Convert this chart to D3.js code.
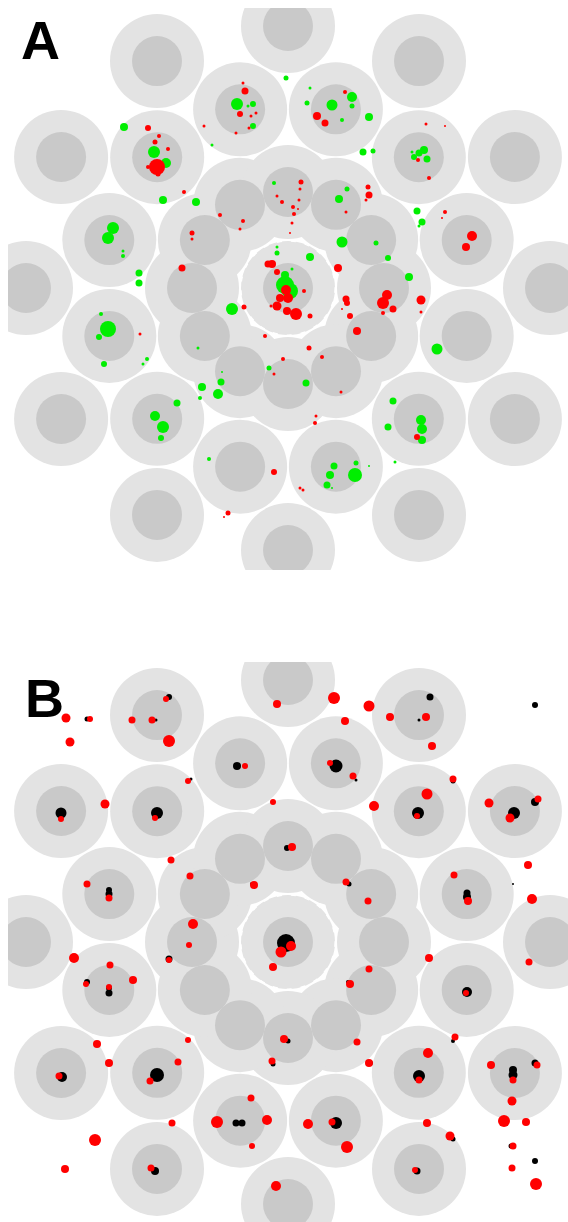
<!DOCTYPE html>
<html>
<head>
<meta charset="utf-8">
<script src="https://cdn.jsdelivr.net/npm/d3@7"></script>
<style>
  html, body { margin: 0; padding: 0; background: #fff; }
  svg { display: block; }
</style>
</head>
<body>
<div id="chart"></div>
<script>
// DETECTOR LAYOUT: RINGS OF TUBES AROUND THE CENTRE
const ringRadius = [0, 96, 185, 262];
const ringCount = [1, 12, 12, 12];
const ringPhase = [0, 0, 15, 0];
const tubeOuter = 47;
const tubeInner = 25;

// PANEL A HITS  [x, y, amplitude]
const greenA = [
  [-164,-161,4],[-134,-136,6],[-122,-125,5],[-125,-88,4],[-92,-86,4],[-76,-143,1.5],
  [-51,-184,6],[-40,-182,1.5],[-35,-184,3],[-35,-162,3],[-2,-210,2.5],
  [-175,-60,6],[-180,-50,6],[-165,-37,1.5],[-165,-32,2],[-149,-15,3.5],[-149,-5,3.5],
  [-14,-105,2],[-11,-41,1.5],[-11,-35,2.5],
  [22,-200,1.5],[64,-191,5],[19,-185,2.5],[44,-183,5.5],[64,-182,2.5],[81,-171,4],[54,-168,2],
  [75,-136,3.5],[85,-137,2.5],[136,-138,4],[131,-135,3.5],[126,-131,3],[139,-129,3.5],[124,-136,1.5],
  [129,-77,3.5],[134,-66,3.5],[131,-62,1.5],[59,-99,2.5],[51,-89,4],[54,-46,5.5],[88,-45,2.5],
  [22,-31,4],[100,-30,3],[121,-11,4],
  [4,-19,1.5],[-3,-13,4],[-3,-3,9],[2,3,8],[-56,21,6],[-90,60,1.5],[-19,80,2.5],
  [-67,94,3.5],[-66,84,1],[18,95,3.5],[-86,99,4],[-70,106,5],[-88,110,2],[-111,115,3.5],[105,113,3.5],
  [-187,26,2],[-180,41,8],[-189,49,3],[-184,76,3],[-141,71,2],[-145,76,1.5],
  [-133,128,5],[-125,139,6],[-127,150,3],[-79,171,2],
  [149,61,5.5],[100,139,3.5],[133,132,5],[134,141,5],[134,152,4],[107,174,1.5],
  [46,178,3.5],[68,175,2.5],[67,187,7],[42,187,4],[39,197,3.5],[44,200,1],[81,178,1]
];

const redA = [
  [-140,-160,3],[-129,-152,2],[-133,-146,2.5],[-120,-139,2],[-131,-121,8],[-130,-114,2.5],[-140,-121,2],
  [-104,-96,2],[-84,-162,1.5],[-43,-197,3.5],[-45,-205,1.5],[-48,-174,3],[-37,-172,1.5],[-32,-175,1.5],
  [-39,-160,1.5],[-52,-155,1.5],[-106,-20,3.5],[-96,-55,2.5],[-96,-49,1.5],[-68,-73,2],[-45,-67,2],
  [-48,-59,1.5],[-11,-92,1.5],[-6,-86,2],[-16,-24,4],[-20,-24,3.5],[-11,-16,3],
  [57,-196,2],[29,-172,4],[37,-165,3.5],[138,-164,1.5],[157,-162,1],[130,-128,2],[141,-110,2],
  [184,-52,5],[178,-41,4],[157,-76,2],[154,-70,1],
  [13,-106,2.5],[12,-99,1.5],[11,-88,1.5],[5,-81,2],[6,-74,2],[10,-79,1],[4,-65,1.5],[2,-55,1],
  [58,-76,1.5],[80,-101,2.5],[81,-93,3.5],[78,-88,1.5],[50,-20,4],
  [-2,2,5],[0,10,5],[-8,10,4],[-11,18,4.5],[-1,23,4],[8,26,6],[16,3,2],[-17,18,1.5],[22,28,2.5],
  [-44,19,2.5],[58,11,3.5],[59,15,3],[54,21,1],[62,28,3],
  [99,7,5],[95,15,6],[105,21,3.5],[95,25,2],[133,12,4.5],[133,24,1.5],[69,43,4],
  [-23,48,2],[21,60,2.5],[34,69,2],[-5,71,2],[-14,86,1.5],[53,104,1.5],[-148,46,1.5],
  [28,128,1.5],[27,135,2],[129,149,3],[-14,184,3],[-60,225,2.5],[-64,229,1],[12,200,1.5],[15,202,1.5]
];

// PANEL B HITS  [x, y, amplitude]
const blackB = [
  [-201,-223,2.5],[-119,-245,3],[-132,-222,1.5],[-51,-176,4],[-97,-163,1.5],
  [-227,-129,5.5],[-131,-129,6],[-179,-48,3.5],[-179,-52,3],[-36,-58,2],
  [142,-245,3.5],[131,-222,1.5],[247,-237,3],[48,-176,6.5],[68,-162,1.5],[165,-161,2.5],
  [130,-129,6],[226,-129,6],[247,-140,4],[-1,-94,3],[61,-58,2.5],
  [179,-45,4],[179,-49,3.5],[225,-58,1],[-2,1,9],[60,40,2],[0,99,2.5],
  [-201,40,3],[-179,51,3.5],[-179,46,3],[-119,17,3.5],[-226,135,5],[-131,133,7],[-15,122,2.5],
  [-52,181,3.5],[-46,181,3.5],[-133,229,4],[179,50,5],[83,121,2],[165,99,2],
  [131,134,6],[225,133,4.5],[225,128,4],[247,121,3.5],[48,181,6],[165,197,2.5],
  [129,229,3.5],[223,204,2.5],[247,219,3]
];

const redB = [
  [-222,-224,4.5],[-198,-223,3],[-218,-200,4.5],[-122,-243,3],[-156,-222,3.5],[-136,-222,3.5],
  [-119,-201,6],[-43,-176,3],[-100,-161,3],[-11,-238,4],[-15,-140,3],[-227,-123,3],[-183,-138,4.5],
  [-133,-124,3],[-117,-82,3.5],[-179,-44,3.5],[-201,-58,3.5],[-98,-66,3.5],[-34,-57,4],[-95,-18,5],
  [46,-244,6],[81,-236,5.5],[57,-221,4],[102,-225,4],[138,-225,4],[144,-196,4],[42,-179,3],
  [65,-166,3.5],[86,-136,5],[165,-163,3.5],[139,-148,5.5],[129,-126,3],[201,-139,4.5],
  [222,-124,4.5],[250,-143,3.5],[4,-95,4],[240,-77,4],[58,-60,3.5],[80,-41,3.5],[166,-67,3.5],
  [180,-41,4],[244,-43,5],
  [-99,3,3],[3,4,5],[-7,10,5.5],[-15,25,4],[81,27,3.5],[62,42,4],[-100,98,3],[-4,97,4],[69,100,3.5],
  [-214,16,5],[-178,23,3.5],[-202,42,3],[-155,38,4],[-179,45,3],[-119,18,3],
  [-191,102,4],[-179,121,4],[-229,134,3.5],[-110,120,3.5],[-138,139,3.5],[-16,119,3.5],
  [-116,181,3.5],[-71,180,6],[-21,178,5],[-37,156,3.5],[-36,204,3],[-193,198,6],[-223,227,4],
  [-137,226,3.5],[-12,244,5],
  [141,16,4],[241,20,3.5],[178,51,3],[81,121,4],[167,95,3.5],[140,111,5],[131,138,3.5],
  [225,138,3.5],[203,123,4],[249,123,3.5],[224,159,4.5],[216,179,6],[238,180,4],
  [44,180,3.5],[20,182,5],[59,205,6],[139,181,4],[162,194,4.5],[127,228,3],
  [225,204,3.5],[224,226,3.5],[248,242,6]
];

const panelLabels = ["A", "B"];

// GLOBAL SIZES
const width = 568;
const height = 1222;
const panelTop = [8, 662];

const svg = d3.select("#chart").append("svg")
  .attr("width", width)
  .attr("height", height);

// BUILD TUBE LIST FROM THE RING TABLE
let tubes = [];
ringRadius.forEach(function (rr, i) {
  for (let k = 0; k < ringCount[i]; k++) {
    const a = (ringPhase[i] + 30 * k) * Math.PI / 180;
    tubes.push({ ring: i, x: rr * Math.cos(a), y: rr * Math.sin(a) });
  }
});
// centre tube drawn last so its rim sits on top
tubes.sort((a, b) => b.ring - a.ring);

const rScale = d3.scaleLinear().domain([0, 10]).range([0, 10]);

function drawPanel(idx, layers) {
  const top = panelTop[idx];
  const x = d3.scaleLinear().domain([-280, 280]).range([8, 568]);
  const y = d3.scaleLinear().domain([-280, 282]).range([top, top + 562]);

  svg.append("clipPath").attr("id", "clip" + idx)
    .append("rect")
    .attr("x", 8).attr("y", top)
    .attr("width", 560).attr("height", 562);

  const g = svg.append("g").attr("clip-path", "url(#clip" + idx + ")");

  // outer light discs
  g.selectAll(".outer").data(tubes).enter()
    .append("circle")
    .attr("class", "outer")
    .attr("cx", d => x(d.x))
    .attr("cy", d => y(d.y))
    .attr("r", tubeOuter)
    .attr("fill", "#e3e3e3")
    .attr("stroke", d => d.ring === 0 ? "#ffffff" : "none")
    .attr("stroke-width", 1.2)
    .attr("stroke-dasharray", "5 9");

  // inner darker discs
  g.selectAll(".inner").data(tubes).enter()
    .append("circle")
    .attr("class", "inner")
    .attr("cx", d => x(d.x))
    .attr("cy", d => y(d.y))
    .attr("r", tubeInner)
    .attr("fill", "#c9c9c9");

  // hits
  layers.forEach(function (layer, li) {
    g.selectAll(".hit" + li).data(layer.data).enter()
      .append("circle")
      .attr("class", "hit" + li)
      .attr("cx", d => x(d[0]))
      .attr("cy", d => y(d[1]))
      .attr("r", d => rScale(d[2]))
      .attr("fill", layer.color);
  });
}

drawPanel(0, [{ data: greenA, color: "#00ee00" }, { data: redA, color: "#ff0000" }]);
drawPanel(1, [{ data: blackB, color: "#000000" }, { data: redB, color: "#ff0000" }]);

// PANEL LETTERS
svg.selectAll(".label").data(panelLabels).enter()
  .append("text")
  .attr("class", "label")
  .attr("x", (d, i) => i === 0 ? 21 : 25)
  .attr("y", (d, i) => i === 0 ? 59 : 717)
  .attr("font-family", "Liberation Sans, Arial, sans-serif")
  .attr("font-weight", "bold")
  .attr("font-size", 54)
  .attr("fill", "#000")
  .text(d => d);
</script>
</body>
</html>
